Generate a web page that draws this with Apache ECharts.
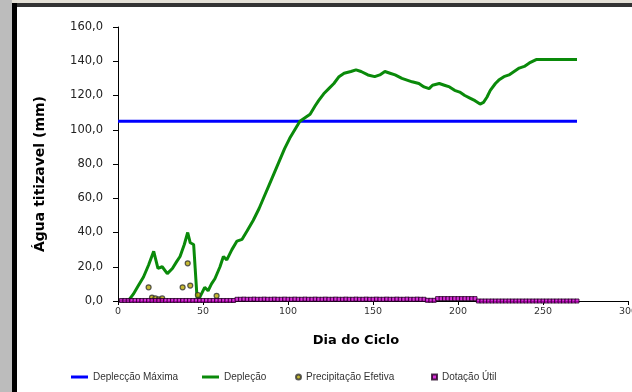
<!DOCTYPE html>
<html>
<head>
<meta charset="utf-8">
<script src="https://cdn.jsdelivr.net/npm/echarts@6/dist/echarts.min.js"></script>
<style>html,body{margin:0;padding:0;background:#fff;}#c{width:632px;height:392px;}</style>
</head>
<body>
<div id="c"></div>
<script>
// ---- data ----
const xTicks = [0, 50, 100, 150, 200, 250, 300];
const yTicks = [0, 20, 40, 60, 80, 100, 120, 140, 160];
const seriesNames = ['Deplecção Máxima', 'Depleção', 'Precipitação Efetiva', 'Dotação Útil'];
const xTitle = 'Dia do Ciclo';
const yTitle = 'Água titizavel (mm)';

const maxDepDays = [0, 270];
const maxDepVals = [105, 105];

const depDays = [1, 6, 9, 12, 15, 18, 21, 23.5, 26, 29, 32, 34.5, 36.5, 39, 41, 42.5, 44.5, 46.5, 48, 51, 53, 55, 57, 60, 62, 64, 67, 70, 73, 76, 79.5, 83, 86, 89, 92, 95, 98, 101, 104, 107, 110, 113, 116, 118, 121, 124, 127, 130, 133, 137, 140, 143, 147, 151, 154, 157, 160, 163, 167, 170, 173, 177, 180, 183, 185, 189, 192, 195, 198, 201, 204, 207, 210, 213, 215, 217, 219, 222, 224, 227, 230, 233, 236, 239, 242, 246, 270];
const depVals = [0, 0, 4, 9, 14, 21, 29, 19, 20, 16, 19, 23, 26, 33, 40, 34, 33, 2, 2, 8, 6, 10, 13, 20, 26, 24, 30, 35, 36, 41, 47, 54, 61, 68, 75, 82, 89, 95, 100, 105, 107, 109, 114, 117, 121, 124, 127, 131, 133, 134, 135, 134, 132, 131, 132, 134, 133, 132, 130, 129, 128, 127, 125, 124, 126, 127, 126, 125, 123, 122, 120, 118.5, 117, 115, 116, 119, 123, 127, 129, 131, 132, 134, 136, 137, 139, 141, 141];

const precDays = [18, 20, 22, 24, 26, 38, 41, 42.5, 47, 58];
const precVals = [8, 2, 1.5, 1, 1.5, 8, 22, 9, 3.5, 3];

const dotStart = 2, dotStep = 2;
const dotVals = [
  0.3,0.3,0.3,0.3,0.3,0.3,0.3,0.3,0.3,0.3,0.3,0.3,0.3,0.3,0.3,0.3,0.3,
  0.3,0.3,0.3,0.3,0.3,0.3,0.3,0.3,0.3,0.3,0.3,0.3,0.3,0.3,0.3,0.3,0.3,
  1.0,1.0,1.1,1.0,1.0,1.1,1.0,1.0,1.1,1.0,1.0,1.1,1.0,1.0,1.1,1.0,1.0,1.1,1.0,1.0,
  1.1,1.0,1.0,1.1,1.0,1.0,1.1,1.0,1.0,1.1,1.0,1.0,1.1,1.0,1.0,1.1,1.0,1.0,1.1,1.0,
  1.0,1.1,1.0,1.0,1.1,1.0,1.0,1.1,1.0,1.0,1.1,1.0,1.0,1.1,1.0,1.0,
  0.4,0.4,0.4,
  1.4,1.4,1.4,1.4,1.4,1.4,1.4,1.4,1.4,1.4,1.4,1.4,
  0,0,0,0,0,0,0,0,0,0,0,0,0,0,0,0,0,0,0,0,0,0,0,0,0,0,0,0,0,0
];

// ---- chart ----
const zip = (a, b) => a.map((d, i) => [d, b[i]]);
const dotData = dotVals.map((v, i) => [dotStart + i * dotStep, v]);
const fmt = v => v.toFixed(1).replace('.', ',');
const F = 'DejaVu Sans';

const chart = echarts.init(document.getElementById('c'), null, {renderer: 'canvas'});
const legendBase = {
  orient: 'horizontal', top: 372, itemGap: 2, padding: 0,
  textStyle: {fontFamily: 'Liberation Sans', fontSize: 10, color: '#333'}
};
chart.setOption({
  animation: false,
  backgroundColor: '#fff',
  graphic: [
    {type: 'rect', shape: {x: 0, y: 0, width: 632, height: 3}, style: {fill: '#e4e0d6'}, silent: true},
    {type: 'rect', shape: {x: 0, y: 0, width: 12, height: 392}, style: {fill: '#bcbcbc'}, silent: true},
    {type: 'rect', shape: {x: 12, y: 3, width: 620, height: 4}, style: {fill: '#333'}, silent: true},
    {type: 'rect', shape: {x: 12, y: 3, width: 5, height: 389}, style: {fill: '#000'}, silent: true},
    {type: 'text', x: 356, y: 341, style: {text: xTitle, font: 'bold 13px "DejaVu Sans"', fill: '#000', align: 'center', verticalAlign: 'middle'}, silent: true},
    {type: 'text', x: 40, y: 174, rotation: Math.PI / 2, style: {text: yTitle, font: 'bold 14px "DejaVu Sans"', fill: '#000', align: 'center', verticalAlign: 'middle'}, silent: true}
  ],
  grid: {left: 118, right: 4, top: 27, bottom: 91, containLabel: false, outerBoundsMode: 'none'},
  legend: [
    Object.assign({}, legendBase, {data: [{name: seriesNames[0], icon: 'rect'}], left: 71, itemWidth: 17, itemHeight: 3}),
    Object.assign({}, legendBase, {data: [{name: seriesNames[1], icon: 'rect'}], left: 202, itemWidth: 17, itemHeight: 3}),
    Object.assign({}, legendBase, {data: [{name: seriesNames[2], icon: 'circle'}], left: 295, itemWidth: 5, itemHeight: 5}),
    Object.assign({}, legendBase, {data: [{name: seriesNames[3], icon: 'rect'}], left: 431, itemWidth: 5, itemHeight: 5})
  ],
  xAxis: {
    type: 'value', min: xTicks[0], max: xTicks[xTicks.length - 1], interval: 50,
    axisLine: {show: true, lineStyle: {color: '#000', width: 1}},
    axisTick: {show: true, length: 4, lineStyle: {color: '#000'}},
    axisLabel: {fontFamily: F, fontSize: 9.5, color: '#333', margin: 6},
    splitLine: {show: false}
  },
  yAxis: {
    type: 'value', min: yTicks[0], max: yTicks[yTicks.length - 1], interval: 20,
    axisLine: {show: true, lineStyle: {color: '#000', width: 1}},
    axisTick: {show: true, length: 5, lineStyle: {color: '#000'}},
    axisLabel: {fontFamily: F, fontSize: 11.5, color: '#222', margin: 15, formatter: fmt},
    splitLine: {show: false}
  },
  series: [
    {
      name: seriesNames[0], type: 'line', data: zip(maxDepDays, maxDepVals),
      showSymbol: false, symbol: 'none', lineStyle: {color: '#0000ff', width: 3}, itemStyle: {color: '#0000ff'}, z: 3
    },
    {
      name: seriesNames[1], type: 'line', data: zip(depDays, depVals),
      showSymbol: false, symbol: 'none', lineStyle: {color: '#0a8a0a', width: 3}, itemStyle: {color: '#0a8a0a'}, z: 4
    },
    {
      name: seriesNames[2], type: 'scatter', data: zip(precDays, precVals),
      symbol: 'circle', symbolSize: 5,
      itemStyle: {color: '#b8a800', borderColor: '#333', borderWidth: 1.2}, z: 5
    },
    {
      name: seriesNames[3], type: 'scatter', data: dotData,
      symbol: 'rect', symbolSize: 4,
      itemStyle: {color: '#d000d0', borderColor: '#200020', borderWidth: 1}, z: 6
    }
  ]
});
</script>
</body>
</html>
